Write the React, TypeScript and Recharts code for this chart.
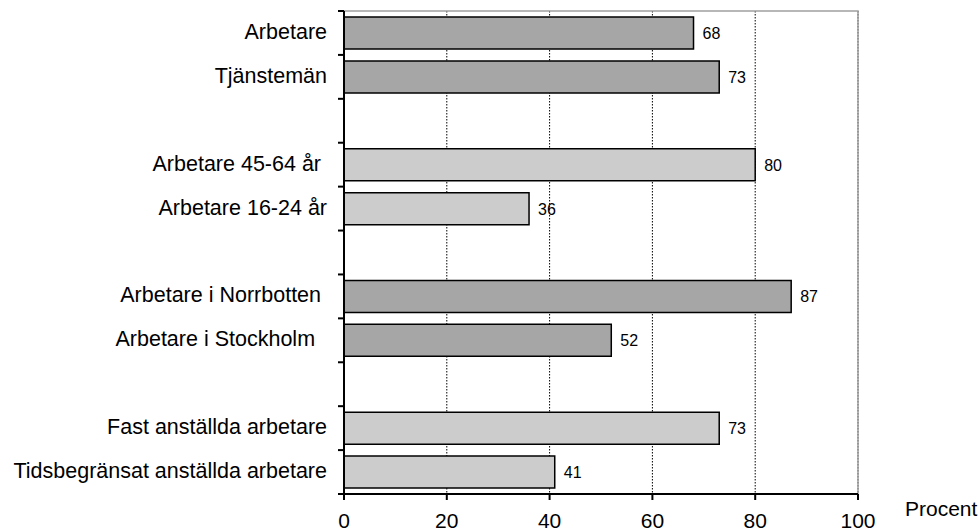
import React from 'react';
import { BarChart, Bar, XAxis, YAxis, CartesianGrid, Cell, LabelList, ReferenceArea } from 'recharts';

const categories = [
  'Arbetare',
  'Tjänstemän',
  '',
  'Arbetare 45-64 år ',
  'Arbetare 16-24 år',
  '',
  'Arbetare i Norrbotten ',
  'Arbetare i Stockholm  ',
  '',
  'Fast anställda arbetare',
  'Tidsbegränsat anställda arbetare',
];
const values: (number | null)[] = [68, 73, null, 80, 36, null, 87, 52, null, 73, 41];
const groups: (number | null)[] = [0, 0, null, 1, 1, null, 2, 2, null, 3, 3];
const xTicks = [0, 20, 40, 60, 80, 100];
const axisTitle = 'Procent';

const data = categories.map((name, i) => ({ id: i, name, value: values[i], group: groups[i] }));

const W = 980;
const H = 532;
const MARGIN = { top: 11, right: 122, bottom: 0, left: 0 };
const Y_W = 344;
const X_H = 38;
const PLOT_H = H - MARGIN.top - X_H;
const BAND = PLOT_H / categories.length;
const AXIS_X = MARGIN.left + Y_W;
const FONT = '"Liberation Sans", Arial, sans-serif';

const DARK = '#A6A6A6';
const LIGHT = '#CCCCCC';

const YTick = (props: any) => {
  const { y, payload, index } = props;
  const label = categories[payload.value] ?? '';
  const top = y - BAND / 2;
  const last = index === categories.length - 1;
  return (
    <g>
      <line x1={AXIS_X - 6} x2={AXIS_X} y1={top} y2={top} stroke="#000" strokeWidth={2} />
      {last && (
        <line x1={AXIS_X - 6} x2={AXIS_X} y1={y + BAND / 2} y2={y + BAND / 2} stroke="#000" strokeWidth={2} />
      )}
      <text
        x={AXIS_X - 17}
        y={y + 6}
        textAnchor="end"
        fontFamily={FONT}
        fontSize={21.5}
        fill="#000"
        style={{ whiteSpace: 'pre' }}
      >
        {label}
      </text>
    </g>
  );
};

const XTick = (props: any) => {
  const { x, payload } = props;
  return (
    <text x={x} y={H - MARGIN.bottom - X_H + 34} textAnchor="middle" fontFamily={FONT} fontSize={21} fill="#000">
      {payload.value}
    </text>
  );
};

const ValueLabel = (props: any) => {
  const { x, y, width, height, value } = props;
  if (value === null || value === undefined) return null;
  return (
    <text x={x + width + 9} y={y + height / 2 + 6} fontFamily={FONT} fontSize={16} fill="#000">
      {value}
    </text>
  );
};

export default function App() {
  return (
    <div style={{ position: 'absolute', left: 0, top: 0, width: W, height: H, background: '#fff' }}>
      <BarChart width={W} height={H} data={data} layout="vertical" margin={MARGIN} barSize={32}>
        <CartesianGrid horizontal={false} stroke="#000" strokeDasharray="1.5 1.5" strokeWidth={1} />
        <ReferenceArea x1={0} x2={100} fill="none" stroke="#A0A0A0" strokeWidth={1.5} ifOverflow="visible" />
        <XAxis
          type="number"
          domain={[0, 100]}
          ticks={xTicks}
          height={X_H}
          axisLine={{ stroke: '#000', strokeWidth: 2 }}
          tickLine={{ stroke: '#000', strokeWidth: 2 }}
          tickSize={6}
          tick={<XTick />}
          interval={0}
          label={{
            content: (p: any) => (
              <text
                x={p.viewBox.x + p.viewBox.width + 47}
                y={H - X_H + 22}
                fontFamily={FONT}
                fontSize={21}
                fill="#000"
              >
                {axisTitle}
              </text>
            ),
          }}
        />
        <YAxis
          type="category"
          dataKey="id"
          width={Y_W}
          axisLine={{ stroke: '#000', strokeWidth: 2 }}
          tickLine={false}
          tick={<YTick />}
          interval={0}
        />
        <Bar dataKey="value" isAnimationActive={false} stroke="#000" strokeWidth={1.5}>
          {data.map((d, i) => (
            <Cell key={i} fill={d.group !== null && d.group % 2 === 1 ? LIGHT : DARK} />
          ))}
          <LabelList dataKey="value" content={<ValueLabel />} />
        </Bar>
      </BarChart>
    </div>
  );
}
